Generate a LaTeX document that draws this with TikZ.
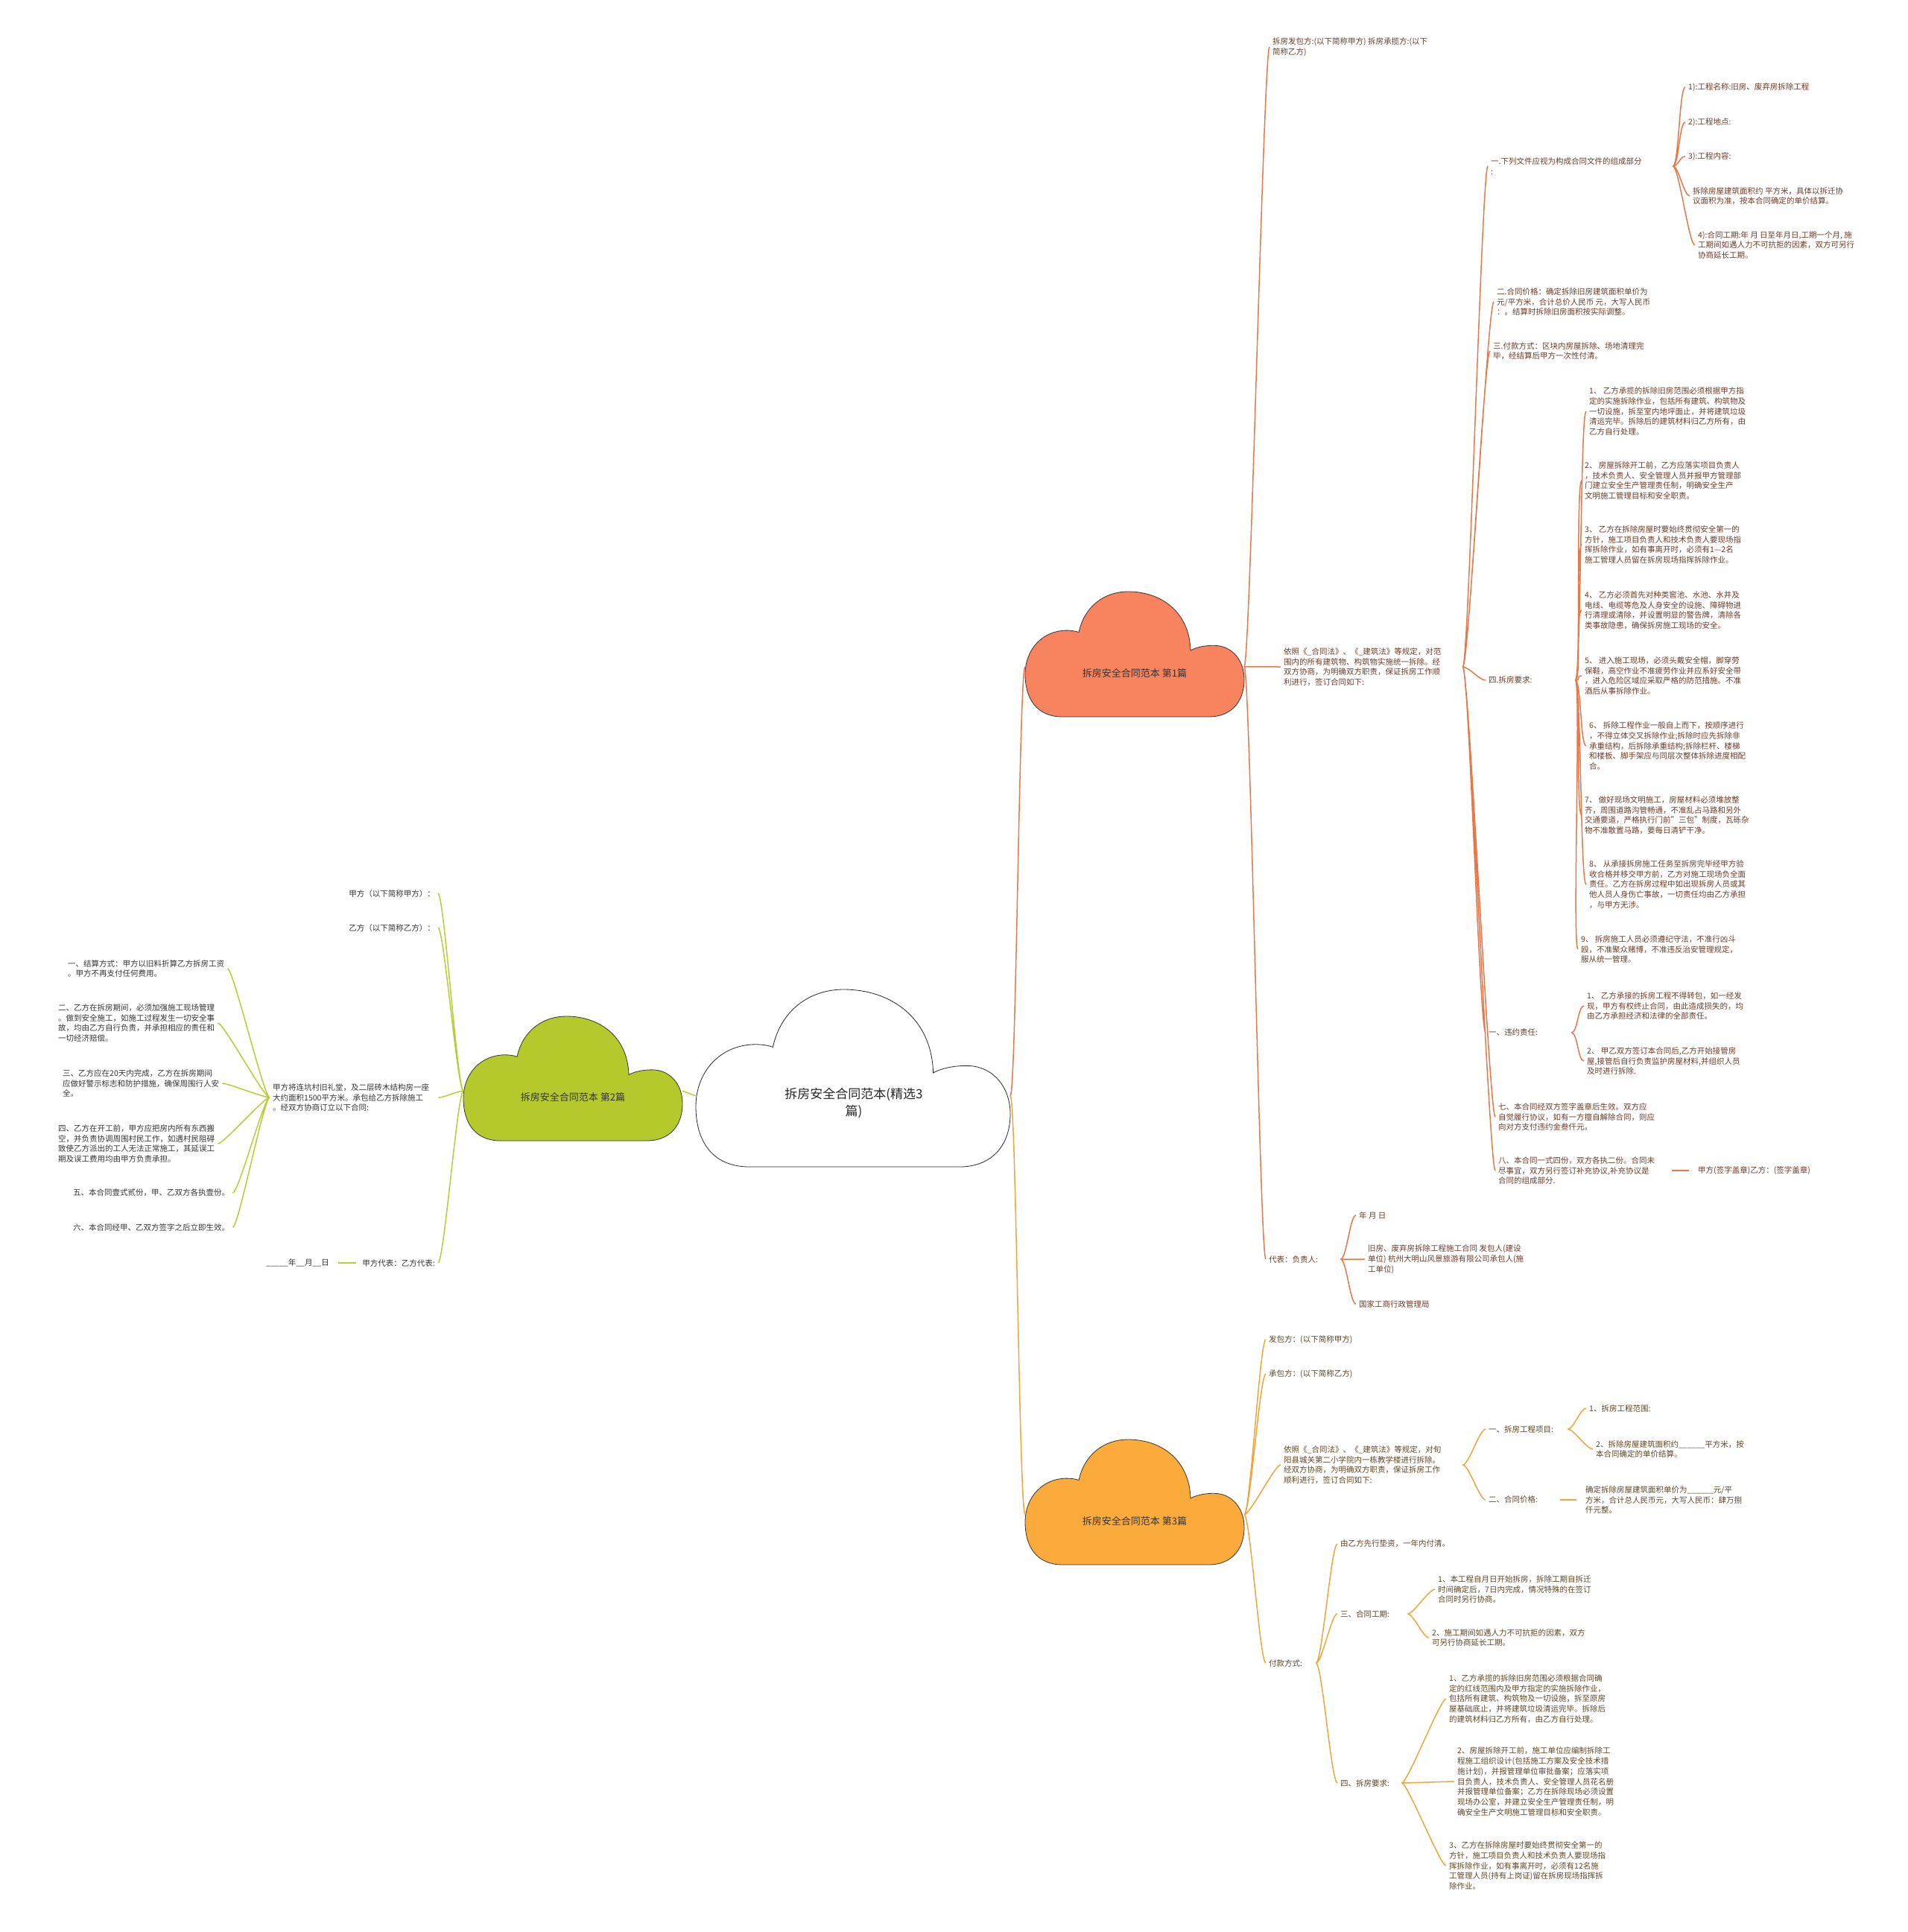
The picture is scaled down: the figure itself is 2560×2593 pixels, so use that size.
\documentclass[tikz,border=0pt]{standalone}
\usepackage{fontspec}
\setmainfont{Noto Sans CJK SC}
\definecolor{lineA}{HTML}{E8784A}
\definecolor{fillA}{HTML}{F7845E}
\definecolor{txtA}{HTML}{6B3A25}
\definecolor{lineB}{HTML}{B7CC35}
\definecolor{fillB}{HTML}{B5C92D}
\definecolor{txtB}{HTML}{333333}
\definecolor{lineC}{HTML}{F0A53C}
\definecolor{fillC}{HTML}{FBAB3B}
\definecolor{txtC}{HTML}{5E4522}

\begin{document}
\begin{tikzpicture}[x=1pt, y=-1pt,
		every node/.style={anchor=west, align=left, inner xsep=4pt, inner ysep=2pt, font=\fontsize{10.5}{13.7}\selectfont},
		hubtext/.style={anchor=center, align=center, text=black!85, font=\fontsize{17}{23}\selectfont},
		cloudtext/.style={anchor=center, text=black!80, font=\fontsize{13}{16}\selectfont},
		ta/.style={text=txtA},
		tb/.style={text=txtB},
		tc/.style={text=txtC},
		curveR/.style={line width=1.5pt, to path={.. controls +(8,0) and +(-8,0) .. (\tikztotarget)}},
		curveL/.style={line width=1.5pt, to path={.. controls +(-8,0) and +(8,0) .. (\tikztotarget)}},
		solo/.style={line width=1.5pt, shorten <=4pt, shorten >=8pt},
		pics/cloudy/.style={code={
			\path[pic actions] (0.17,1) .. controls (0.05,1) and (0,0.85) .. (0,0.66)
				.. controls (0,0.46) and (0.08,0.31) .. (0.19,0.31)
				.. controls (0.21,0.31) and (0.23,0.315) .. (0.245,0.325)
				.. controls (0.27,0.12) and (0.36,0) .. (0.47,0)
				.. controls (0.62,0) and (0.75,0.16) .. (0.755,0.47)
				.. controls (0.78,0.445) and (0.82,0.43) .. (0.86,0.43)
				.. controls (0.95,0.43) and (1,0.56) .. (1,0.70)
				.. controls (1,0.90) and (0.93,1) .. (0.84,1)
				-- cycle;
			\coordinate (-w) at (0,0.6);
			\coordinate (-e) at (1,0.6);
		}},
		]
		\useasboundingbox (0,0) rectangle (2560,2593);

		\pic[draw=black!85, line width=0.8pt, fill=white, xscale=422, yscale=238] (hub) at (934,1328) {cloudy};
		\pic[draw=black!80, line width=0.8pt, fill=fillA, xscale=294, yscale=168] (cloudA) at (1376,794) {cloudy};
		\pic[draw=black!80, line width=0.8pt, fill=fillB, xscale=294, yscale=167] (cloudB) at (622,1364) {cloudy};
		\pic[draw=black!80, line width=0.8pt, fill=fillC, xscale=294, yscale=168] (cloudC) at (1376,1932) {cloudy};

		\node[hubtext] (hubT) at (1146,1480) {拆房安全合同范本(精选3\\篇)};
		\node[cloudtext] (cloudAT) at (1523,903) {拆房安全合同范本 第1篇};
		\node[cloudtext] (cloudBT) at (769,1472) {拆房安全合同范本 第2篇};
		\node[cloudtext] (cloudCT) at (1523,2041) {拆房安全合同范本 第3篇};

		\node[ta] (a1) at (1704,63) {拆房发包方:(以下简称甲方) 拆房承揽方:(以下\\简称乙方)};
		\node[ta, text width=236pt] (a2) at (1719,895) {依照《\_合同法》、《\_建筑法》等规定，对范\\围内的所有建筑物、构筑物实施统一拆除。经\\双方协商，为明确双方职责，保证拆房工作顺\\利进行，签订合同如下:};
		\node[ta, text width=92pt] (a3) at (1699,1690) {代表：负责人:};
		\node[ta, text width=240pt] (a21) at (1997,223) {一.下列文件应视为构成合同文件的组成部分\\:};
		\node[ta] (a22) at (2005,405) {二.合同价格：确定拆除旧房建筑面积单价为\\元/平方米，合计总价人民币 元，大写人民币\\：。结算时拆除旧房面积按实际调整。};
		\node[ta] (a23) at (2000,471) {三.付款方式：区块内房屋拆除、场地清理完\\毕，经结算后甲方一次性付清。};
		\node[ta, text width=112pt] (a24) at (1994,913) {四.拆房要求:};
		\node[ta, text width=107pt] (a25) at (1994,1386) {一、违约责任:};
		\node[ta] (a26) at (2007,1499) {七、本合同经双方签字盖章后生效。双方应\\自觉履行协议，如有一方擅自解除合同，则应\\向对方支付违约金叁仟元。};
		\node[ta, text width=225pt] (a27) at (2007,1571) {八、本合同一式四份，双方各执二份。合同未\\尽事宜，双方另行签订补充协议,补充协议是\\合同的组成部分.};
		\node[ta] (a211) at (2262,117) {1):工程名称:旧房、废弃房拆除工程};
		\node[ta] (a212) at (2262,164) {2):工程地点:};
		\node[ta] (a213) at (2262,210) {3):工程内容:};
		\node[ta] (a214) at (2268,263) {拆除房屋建筑面积约 平方米，具体以拆迁协\\议面积为准，按本合同确定的单价结算。};
		\node[ta] (a215) at (2275,329) {4):合同工期:年 月 日至年月日,工期一个月, 施\\工期间如遇人力不可抗拒的因素，双方可另行\\协商延长工期。};
		\node[ta] (a241) at (2129,552) {1、 乙方承揽的拆除旧房范围必须根据甲方指\\定的实施拆除作业，包括所有建筑、构筑物及\\一切设施，拆至室内地坪面止，并将建筑垃圾\\清运完毕。拆除后的建筑材料归乙方所有，由\\乙方自行处理。};
		\node[ta] (a242) at (2123,645) {2、 房屋拆除开工前，乙方应落实项目负责人\\，技术负责人、安全管理人员并报甲方管理部\\门建立安全生产管理责任制，明确安全生产\\文明施工管理目标和安全职责。};
		\node[ta] (a243) at (2123,731) {3、 乙方在拆除房屋时要始终贯彻安全第一的\\方针，施工项目负责人和技术负责人要现场指\\挥拆除作业，如有事离开时，必须有1—2名\\施工管理人员留在拆房现场指挥拆除作业。};
		\node[ta] (a244) at (2123,819) {4、 乙方必须首先对种类窖池、水池、水井及\\电线、电缆等危及人身安全的设施、障碍物进\\行清理或清除，并设置明显的警告牌，清除各\\类事故隐患，确保拆房施工现场的安全。};
		\node[ta] (a245) at (2123,907) {5、 进入施工现场，必须头戴安全帽，脚穿劳\\保鞋，高空作业不准疲劳作业并应系好安全带\\，进入危险区域应采取严格的防范措施。不准\\酒后从事拆除作业。};
		\node[ta] (a246) at (2129,1001) {6、 拆除工程作业一般自上而下，按顺序进行\\，不得立体交叉拆除作业;拆除时应先拆除非\\承重结构，后拆除承重结构;拆除栏杆、楼梯\\和楼板、脚手架应与同层次整体拆除进度相配\\合。};
		\node[ta] (a247) at (2123,1094) {7、 做好现场文明施工，房屋材料必须堆放整\\齐，周围道路沟管畅通，不准乱占马路和另外\\交通要道，严格执行门前"三包"制度，瓦砾杂\\物不准散置马路，要每日清铲干净。};
		\node[ta] (a248) at (2129,1187) {8、 从承接拆房施工任务至拆房完毕经甲方验\\收合格并移交甲方前，乙方对施工现场负全面\\责任。乙方在拆房过程中如出现拆房人员或其\\他人员人身伤亡事故，一切责任均由乙方承担\\，与甲方无涉。};
		\node[ta] (a249) at (2118,1274) {9、 拆房施工人员必须遵纪守法，不准行凶斗\\殴，不准聚众赌博，不准违反治安管理规定，\\服从统一管理。};
		\node[ta] (a251) at (2126,1350) {1、 乙方承接的拆房工程不得转包，如一经发\\现，甲方有权终止合同，由此造成损失的，均\\由乙方承担经济和法律的全部责任。};
		\node[ta] (a252) at (2126,1424) {2、 甲乙双方签订本合同后,乙方开始接管房\\屋,接管后自行负责监护房屋材料,并组织人员\\及时进行拆除.};
		\node[ta] (a271) at (2275,1571) {甲方(签字盖章)乙方：(签字盖章)};
		\node[ta] (a31) at (1820,1631) {年 月 日};
		\node[ta] (a32) at (1832,1690) {旧房、废弃房拆除工程施工合同 发包人(建设\\单位) 杭州大明山风景旅游有限公司承包人(施\\工单位)};
		\node[ta] (a33) at (1820,1750) {国家工商行政管理局};

		\node[tb, anchor=east] (b1) at (588,1199) {甲方（以下简称甲方）：};
		\node[tb, anchor=east] (b2) at (588,1245) {乙方（以下简称乙方）：};
		\node[tb, text width=218pt] (b3) at (362,1473) {甲方将连坑村旧礼堂，及二层砖木结构房一座\\大约面积1500平方米。承包给乙方拆除施工\\。经双方协商订立以下合同:};
		\node[tb, anchor=east] (b4) at (588,1695) {甲方代表：乙方代表:};
		\node[tb] (b31) at (87,1300) {一、结算方式：甲方以旧料折算乙方拆房工资\\。甲方不再支付任何费用。};
		\node[tb] (b32) at (74,1373) {二、乙方在拆房期间，必须加强施工现场管理\\。做到安全施工，如施工过程发生一切安全事\\故，均由乙方自行负责，并承担相应的责任和\\一切经济赔偿。};
		\node[tb] (b33) at (80,1454) {三、乙方应在20天内完成，乙方在拆房期间\\应做好警示标志和防护措施，确保周围行人安\\全。};
		\node[tb] (b34) at (74,1535) {四、乙方在开工前，甲方应把房内所有东西搬\\空，并负责协调周围村民工作，如遇村民阻碍\\致使乙方派出的工人无法正常施工，其延误工\\期及误工费用均由甲方负责承担。};
		\node[tb] (b35) at (94,1601) {五、本合同壹式贰份，甲、乙双方各执壹份。};
		\node[tb] (b36) at (94,1647) {六、本合同经甲、乙双方签字之后立即生效。};
		\node[tb, anchor=east] (b41) at (446,1695) {\_\_\_\_\_年\_\_月\_\_日};

		\node[tc] (c1) at (1699,1798) {发包方：(以下简称甲方)};
		\node[tc] (c2) at (1699,1844) {承包方：(以下简称乙方)};
		\node[tc, text width=236pt] (c3) at (1719,1966) {依照《\_合同法》、《\_建筑法》等规定，对旬\\阳县城关第二小学院内一栋教学楼进行拆除。\\经双方协商，为明确双方职责，保证拆房工作\\顺利进行，签订合同如下:};
		\node[tc, text width=59pt] (c4) at (1699,2232) {付款方式:};
		\node[tc, text width=102pt] (c31) at (1994,1918) {一、拆房工程项目:};
		\node[tc, text width=88pt] (c32) at (1994,2013) {二、合同价格:};
		\node[tc] (c311) at (2129,1890) {1、拆房工程范围:};
		\node[tc] (c312) at (2138,1945) {2、拆除房屋建筑面积约\_\_\_\_\_\_平方米，按\\本合同确定的单价结算。};
		\node[tc] (c321) at (2124,2013) {确定拆除房屋建筑面积单价为\_\_\_\_\_\_元/平\\方米，合计总人民币元，大写人民币：肆万捌\\仟元整。};
		\node[tc] (c41) at (1795,2072) {由乙方先行垫资，一年内付清。};
		\node[tc, text width=86pt] (c42) at (1795,2166) {三、合同工期:};
		\node[tc, text width=78pt] (c43) at (1795,2393) {四、拆房要求:};
		\node[tc] (c421) at (1926,2133) {1、本工程自月日开始拆房，拆除工期自拆迁\\时间确定后，7日内完成，情况特殊的在签订\\合同时另行协商。};
		\node[tc] (c422) at (1918,2198) {2、施工期间如遇人力不可抗拒的因素，双方\\可另行协商延长工期。};
		\node[tc] (c431) at (1941,2280) {1、乙方承揽的拆除旧房范围必须根据合同确\\定的红线范围内及甲方指定的实施拆除作业，\\包括所有建筑、构筑物及一切设施，拆至原房\\屋基础底止，并将建筑垃圾清运完毕。拆除后\\的建筑材料归乙方所有，由乙方自行处理。};
		\node[tc] (c432) at (1952,2391) {2、房屋拆除开工前，施工单位应编制拆除工\\程施工组织设计(包括施工方案及安全技术措\\施计划)，并报管理单位审批备案；应落实项\\目负责人，技术负责人、安全管理人员花名册\\并报管理单位备案；乙方在拆除现场必须设置\\现场办公室，并建立安全生产管理责任制，明\\确安全生产文明施工管理目标和安全职责。};
		\node[tc] (c433) at (1941,2504) {3、乙方在拆除房屋时要始终贯彻安全第一的\\方针，施工项目负责人和技术负责人要现场指\\挥拆除作业，如有事离开时，必须有12名施\\工管理人员(持有上岗证)留在拆房现场指挥拆\\除作业。};

		\draw[curveR, draw=lineA] (hub-e) to (cloudA-w);
		\draw[curveR, draw=lineC] (hub-e) to (cloudC-w);
		\draw[line width=1.5pt, draw=lineB] (cloudB-e) -- (hub-w);

		\draw[curveR, draw=lineA] (cloudA-e) to (a1.west) (cloudA-e) to (a2.west) (cloudA-e) to (a3.west);
		\draw[curveR, draw=lineA] (a2.east) to (a21.west) (a2.east) to (a22.west) (a2.east) to (a23.west)
			(a2.east) to (a24.west) (a2.east) to (a25.west) (a2.east) to (a26.west) (a2.east) to (a27.west);
		\draw[curveR, draw=lineA] (a21.east) to (a211.west) (a21.east) to (a212.west) (a21.east) to (a213.west)
			(a21.east) to (a214.west) (a21.east) to (a215.west);
		\draw[curveR, draw=lineA] (a24.east) to (a241.west) (a24.east) to (a242.west) (a24.east) to (a243.west)
			(a24.east) to (a244.west) (a24.east) to (a245.west) (a24.east) to (a246.west)
			(a24.east) to (a247.west) (a24.east) to (a248.west) (a24.east) to (a249.west);
		\draw[curveR, draw=lineA] (a25.east) to (a251.west) (a25.east) to (a252.west);
		\draw[solo, draw=lineA] (a27.east) -- (a271.west);
		\draw[curveR, draw=lineA] (a3.east) to (a31.west) (a3.east) to (a32.west) (a3.east) to (a33.west);

		\draw[curveL, draw=lineB] (cloudB-w) to (b1.east) (cloudB-w) to (b2.east) (cloudB-w) to (b3.east) (cloudB-w) to (b4.east);
		\draw[curveL, draw=lineB] (b3.west) to (b31.east) (b3.west) to (b32.east) (b3.west) to (b33.east)
			(b3.west) to (b34.east) (b3.west) to (b35.east) (b3.west) to (b36.east);
		\draw[solo, draw=lineB] (b4.west) -- (b41.east);

		\draw[curveR, draw=lineC] (cloudC-e) to (c1.west) (cloudC-e) to (c2.west) (cloudC-e) to (c3.west) (cloudC-e) to (c4.west);
		\draw[curveR, draw=lineC] (c3.east) to (c31.west) (c3.east) to (c32.west);
		\draw[curveR, draw=lineC] (c31.east) to (c311.west) (c31.east) to (c312.west);
		\draw[solo, draw=lineC] (c32.east) -- (c321.west);
		\draw[curveR, draw=lineC] (c4.east) to (c41.west) (c4.east) to (c42.west) (c4.east) to (c43.west);
		\draw[curveR, draw=lineC] (c42.east) to (c421.west) (c42.east) to (c422.west);
		\draw[curveR, draw=lineC] (c43.east) to (c431.west) (c43.east) to (c432.west) (c43.east) to (c433.west);
	\end{tikzpicture}
\end{document}
